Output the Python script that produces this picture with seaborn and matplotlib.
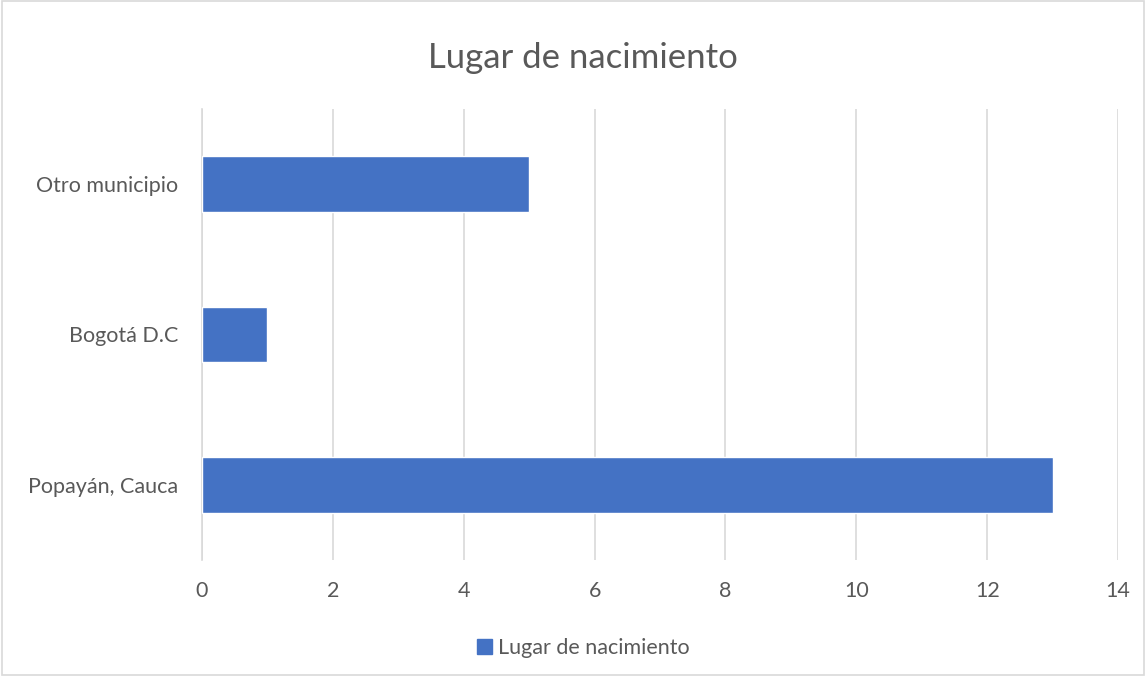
import numpy as np
import pandas as pd
import matplotlib.pyplot as plt
import seaborn as sns
from matplotlib.patches import Rectangle, Patch

# data
places = ['Otro municipio', 'Bogotá D.C', 'Popayán, Cauca']
counts = [5, 1, 13]
series_name = 'Lugar de nacimiento'

BAR = '#4472C4'
TXT = '#595959'
GRID = '#D9D9D9'

sns.set_style('white')
plt.rcParams['font.family'] = ['Lato', 'DejaVu Sans']

df = pd.DataFrame({'place': places, 'count': counts})

fig = plt.figure(figsize=(11.46, 6.76), dpi=100)
ax = fig.add_axes([0.1763, 0.1716, 0.7993, 0.6672])

sns.barplot(data=df, x='count', y='place', order=places, orient='h',
            color=BAR, width=0.37, saturation=1, ax=ax, zorder=3)

ax.set_xlim(0, 14)
ax.set_ylim(2.5, -0.5)
ax.set_xticks(np.arange(0, 15, 2))
ax.grid(axis='x', color=GRID, linewidth=1.2, zorder=0)
ax.set_axisbelow(True)
ax.set_xlabel('')
ax.set_ylabel('')

for s in ['top', 'right', 'bottom']:
    ax.spines[s].set_visible(False)
ax.spines['left'].set_color(GRID)
ax.spines['left'].set_linewidth(1.2)

ax.tick_params(axis='x', length=0, labelsize=15.5, colors=TXT, pad=15)
ax.tick_params(axis='y', which='major', length=0, labelsize=15.5, colors=TXT, pad=17)
ax.set_yticks([-0.5, 0.5, 1.5, 2.5], minor=True)
ax.tick_params(axis='y', which='minor', length=5, width=1.2, color=GRID)

fig.text(0.509, 0.914, series_name, ha='center', va='center', fontsize=25, color=TXT)

handle = Patch(facecolor=BAR, edgecolor=BAR)
fig.legend([handle], [series_name], loc='center', bbox_to_anchor=(0.509, 0.042),
           frameon=False, fontsize=15.5, labelcolor=TXT, handlelength=0.7,
           handleheight=0.7, handletextpad=0.3)

fig.patches.append(Rectangle((0.002, 0.002), 0.996, 0.996, transform=fig.transFigure,
                             fill=False, edgecolor=GRID, linewidth=1.2))

fig.savefig('out.png', dpi=100)
